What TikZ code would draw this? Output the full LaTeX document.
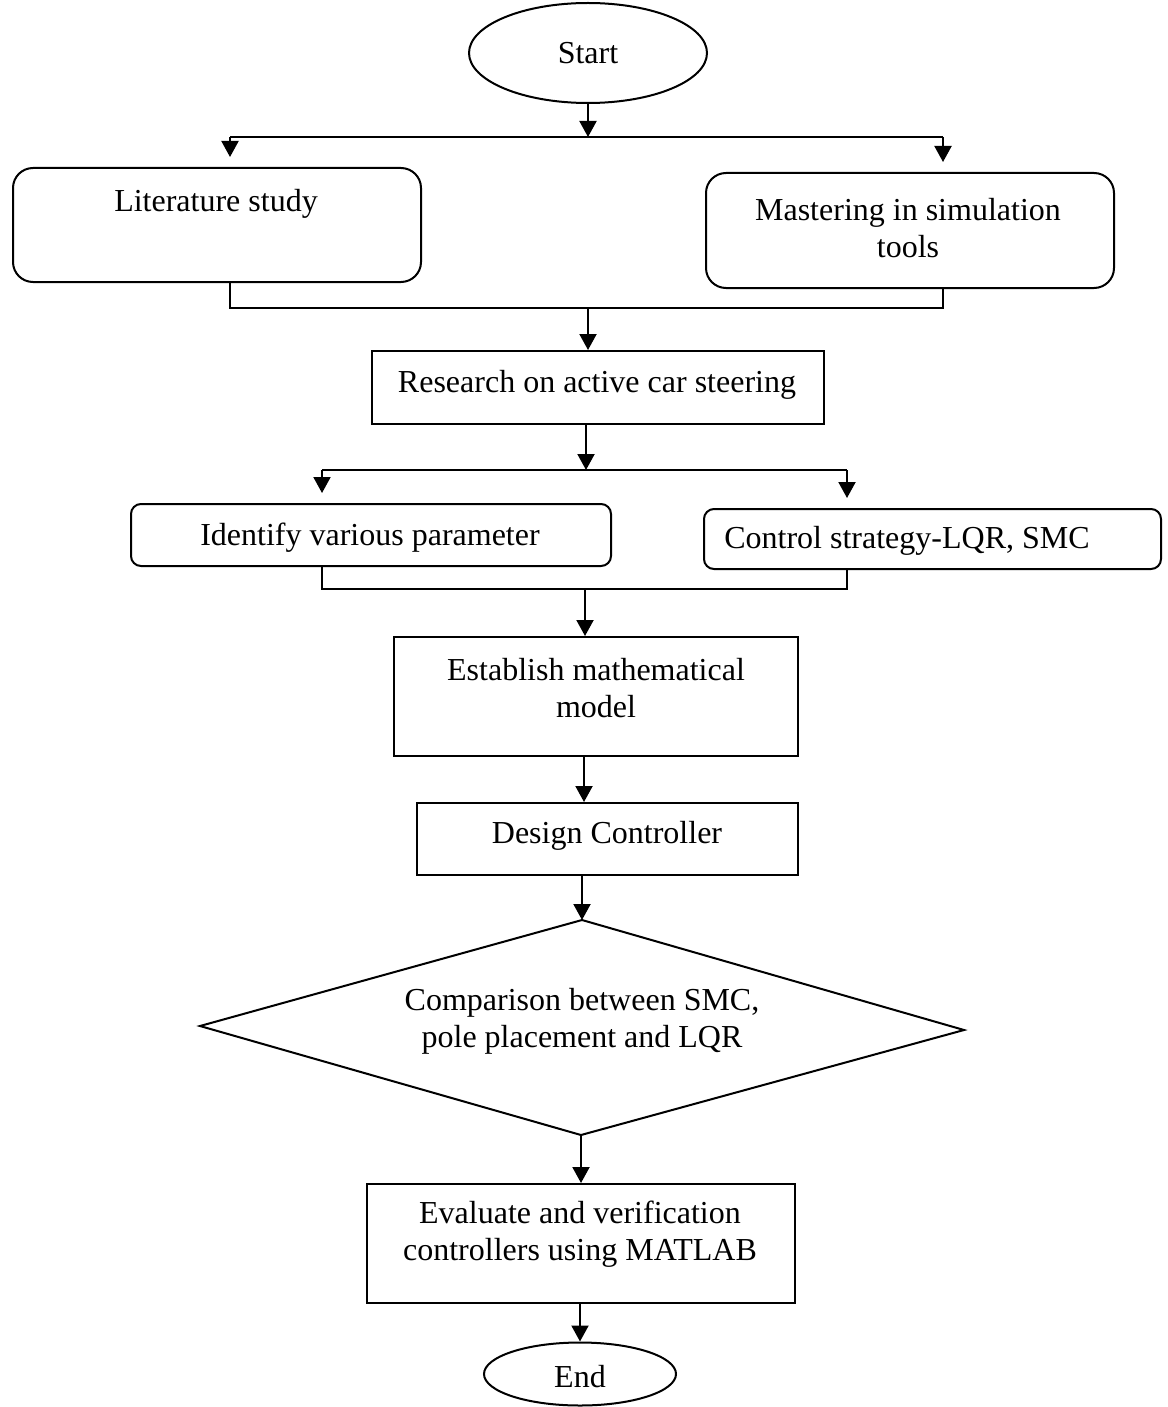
\documentclass[tikz,border=0pt]{standalone}
\usepackage{fontspec}
\setmainfont{Liberation Serif}
\usetikzlibrary{arrows.meta,shapes.geometric}
\begin{document}
\begin{tikzpicture}[x=1pt,y=-1pt,line width=2pt,
  box/.style={draw,inner sep=0pt,anchor=north west},
  oval/.style={draw,ellipse,inner sep=0pt},
  lbl/.style={font=\fontsize{32}{37}\selectfont,align=center,inner sep=0pt},
  arr/.style={-{Triangle[width=17pt,length=16pt]}}]
\useasboundingbox (0,0) rectangle (1167,1407);
% shapes
\node[oval,minimum width=238pt,minimum height=100pt] (start) at (588,53) {};
\node[lbl] (tstart) at (588,53) {Start};
\node[box,rounded corners=20pt,minimum width=408pt,minimum height=114pt] (lit) at (12,167) {};
\node[lbl] (tlit) at (216,204) {Literature study};
\node[box,rounded corners=20pt,minimum width=408pt,minimum height=115pt] (mst) at (705,172) {};
\node[lbl] (tmst) at (908,228) {Mastering in simulation\\tools};
\node[box,minimum width=452pt,minimum height=73pt] (res) at (371,350) {};
\node[lbl] (tres) at (597,385) {Research on active car steering};
\node[box,rounded corners=10pt,minimum width=480pt,minimum height=62pt] (idf) at (130,503) {};
\node[lbl] (tidf) at (370,538) {Identify various parameter};
\node[box,rounded corners=10pt,minimum width=457pt,minimum height=60pt] (ctl) at (703,508) {};
\node[lbl] (tctl) at (907,541) {Control strategy-LQR, SMC};
\node[box,minimum width=404pt,minimum height=119pt] (est) at (393,636) {};
\node[lbl] (test) at (596,688) {Establish mathematical\\model};
\node[box,minimum width=381pt,minimum height=72pt] (des) at (416,802) {};
\node[lbl] (tdes) at (607,836) {Design Controller};
\coordinate (dt) at (582,920);
\coordinate (dl) at (200,1026);
\coordinate (db) at (581,1135);
\coordinate (dr) at (964,1030);
\draw (dt) -- (dr) -- (db) -- (dl) -- cycle;
\node[lbl] (tcmp) at (582,1021) {Comparison between SMC,\\pole placement and LQR};
\node[box,minimum width=428pt,minimum height=119pt] (eva) at (366,1183) {};
\node[lbl] (teva) at (580,1234) {Evaluate and verification\\controllers using MATLAB};
\node[oval,minimum width=192pt,minimum height=63pt] (end) at (580,1374) {};
\node[lbl] (tend) at (580,1377) {End};
% junction coordinates
\coordinate (j1) at (588,137);
\coordinate (j1l) at (230,137);
\coordinate (j1r) at (943,137);
\coordinate (a1l) at (230,157);
\coordinate (a1r) at (943,162);
\coordinate (j2) at (588,308);
\coordinate (j3) at (586,470);
\coordinate (j3l) at (322,470);
\coordinate (j3r) at (847,470);
\coordinate (a3l) at (322,493);
\coordinate (a3r) at (847,498);
\coordinate (j4) at (585,589);
\coordinate (x5) at (584,0);
\coordinate (x6) at (582,0);
\coordinate (x7) at (580,0);
% connectors
\draw[arr] (start.south) -- (j1);
\draw (j1l) -- (j1r);
\draw[arr] (j1l) -- (a1l);
\draw[arr] (j1r) -- (a1r);
\draw (lit.south -| j1l) |- (j2) -| (mst.south -| j1r);
\draw[arr] (j2) -- (res.north -| j2);
\draw[arr] (res.south -| j3) -- (j3);
\draw (j3l) -- (j3r);
\draw[arr] (j3l) -- (a3l);
\draw[arr] (j3r) -- (a3r);
\draw (idf.south -| j3l) |- (j4) -| (ctl.south -| j3r);
\draw[arr] (j4) -- (est.north -| j4);
\draw[arr] (est.south -| x5) -- (des.north -| x5);
\draw[arr] (des.south -| x6) -- (dt);
\draw[arr] (db) -- (eva.north -| db);
\draw[arr] (eva.south -| x7) -- (end.north);
\end{tikzpicture}
\end{document}
